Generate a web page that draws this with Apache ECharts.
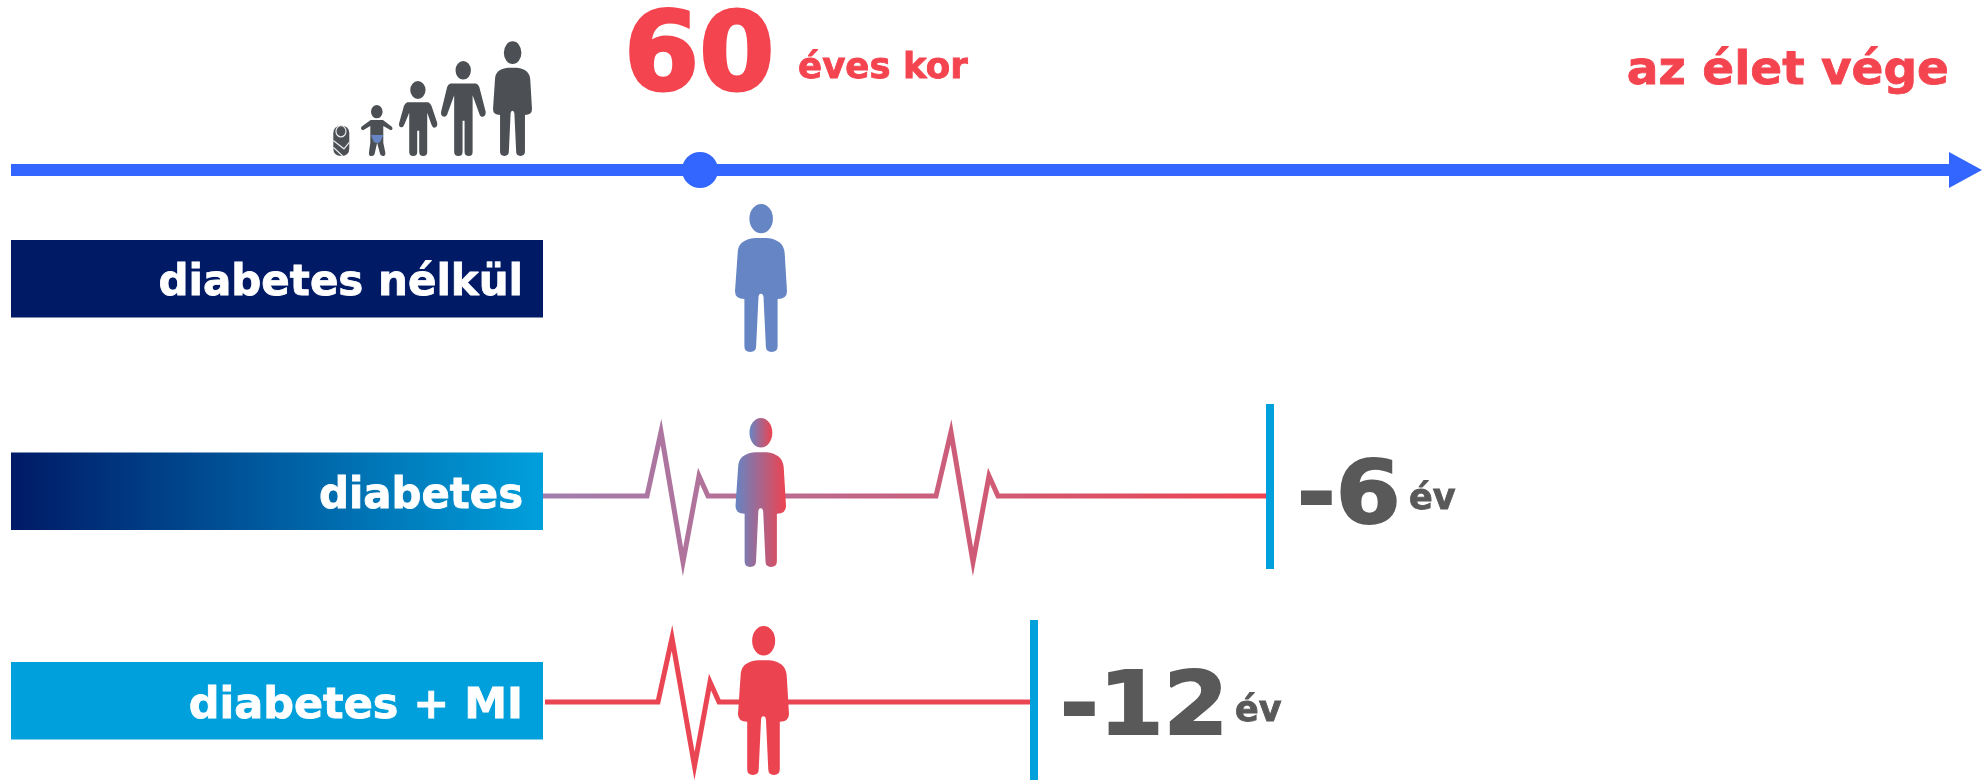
<!DOCTYPE html>
<html><head><meta charset="utf-8">
<style>html,body{margin:0;padding:0;background:#fff}#c{width:1982px;height:780px}</style>
<script src="https://cdn.jsdelivr.net/npm/echarts@6/dist/echarts.min.js"></script>
</head><body><div id="c"></div>
<script>
// Schematic; both axes run in drawing units.
const timelineX = [11, 1950];
const timelineY = [170, 170];
const arrowHead = [1965.5, 170];
const age60Point = [700, 170];

const rowNames = ['diabetes nélkül', 'diabetes', 'diabetes + MI'];
const rowBarLeft = [11, 11, 11];
const rowBarRight = [543, 543, 543];
const rowBarTop = [240, 452.5, 662];
const rowBarBottom = [317.5, 530, 739.5];
const rowBaseline = [295, 508, 718];
const rowTextStretch = [1, 0.995, 1.023];

const ecgDiabetesX = [543, 647, 661, 683, 699, 708, 936, 951, 973, 989, 998, 1267];
const ecgDiabetesY = [496, 496, 432, 562, 476, 496, 496, 432, 562, 476, 496, 496];
const ecgMiX = [545, 658, 672, 694.5, 710, 719, 1030];
const ecgMiY = [702, 702, 638, 766, 682, 702, 702];

const endMarkX = [1270, 1034];
const endMarkTop = [404, 620];
const endMarkBottom = [569, 780];
const lostYears = ['-6', '-12'];
const lostYearsLeft = [1297, 1060];
const lostYearsBaseline = [524, 735];
const yearWord = ['év', 'év'];
const yearWordLeft = [1409, 1235];
const yearWordBaseline = [509, 721];

const headlineAge = '60';
const headlineUnit = 'éves kor';
const headlineEnd = 'az élet vége';

const RED = '#F4444F', GREY = '#595959', ICON = '#4C5054', BLUE = '#3366FF', SKY = '#00A0DC', NAVY = '#001A66', PERSON = '#6685C4';
const FONT = '"DejaVu Sans"';

const personHead = 'M148 87 A35 44 0 1 1 218 87 A35 44 0 1 1 148 87 Z';
const personBody = 'M113 190 Q113 150 165 145 L200 145 Q250 150 253 190 L260 305 Q260 328 232 328 L232 470 Q232 487 214 487 Q197 487 197 470 L190 322 Q189 312 182 312 Q176 312 175 322 L168 470 Q168 487 150 487 Q133 487 133 470 L133 328 Q105 328 105 305 Z';
const personPath = personHead + ' ' + personBody;
const teenPath = 'M407 120 A23 28 0 1 1 453 120 A23 28 0 1 1 407 120 Z M392 160 L468 160 Q475 162 478 170 L497 245 Q498 260 486 260 Q480 260 477 248 L458 195 L458 366 Q458 378 447 378 Q434 378 434 366 L434 272 L428 272 L428 366 Q428 378 416 378 Q403 378 403 366 L403 195 L384 248 Q381 260 373 260 Q362 258 364 245 L382 170 Q385 162 392 160 Z';
const kidPath = 'M271 180 A23 27 0 1 1 317 180 A23 27 0 1 1 271 180 Z M262 217 L325 217 Q332 220 335 228 L352 278 Q354 292 343 293 Q338 293 334 282 L322 248 L322 366 Q322 378 310 378 Q298 378 298 366 L298 302 L292 302 L292 366 Q292 378 280 378 Q268 378 268 366 L268 248 L254 282 Q250 293 244 292 Q235 290 238 278 L252 228 Q255 220 262 217 Z';
const toddlerPath = 'M154 245 A17 20 0 1 1 188 245 A17 20 0 1 1 154 245 Z M153 270 L189 270 L215 290 Q220 298 212 301 L190 288 L190 338 L196 368 Q197 378 188 378 Q181 378 180 370 L172 338 L165 370 Q164 378 156 378 Q147 378 148 368 L152 338 L152 288 L131 301 Q122 298 126 290 Z';
const diaperPath = 'M153 315 L190 315 L181 335 Q171 342 161 335 Z';
const babyPath = 'M40 310 Q40 287 64 287 Q88 287 88 310 L88 355 Q88 378 64 378 Q40 378 40 355 Z';
const babySwirlPath = 'M48 312 A15 14 0 1 1 78 312 A15 14 0 1 1 48 312 Z M40 335 L72 356 L88 340 M40 352 L68 374';

const blueToRed = {type:'linear',x:0,y:0,x2:1,y2:0,colorStops:[{offset:0,color:'#6685C4'},{offset:1,color:'#EE4350'}]};
const iconPaths = [personPath, personBody, personHead, personPath, personPath, teenPath, kidPath, toddlerPath, diaperPath, babyPath];
const iconLeft = [735, 735.5, 749.5, 738, 493, 441, 399, 361, 371, 333.3];
const iconTop = [204, 452.2, 418, 626, 41.3, 61, 81, 105, 135, 125.7];
const iconRight = [787, 786, 772.3, 789, 532, 485.7, 437.3, 392.5, 383.3, 349.3];
const iconBottom = [352, 567, 447.5, 775, 156, 156, 156, 156, 143, 156];
const iconFill = [PERSON, blueToRed, blueToRed, '#EC4350', ICON, ICON, ICON, ICON, PERSON, ICON];

function pairs(xs, ys){ return xs.map((x,i)=>[x, ys[i]]); }

function box(api, l, t, r, b){
  const a = api.coord([l, t]), c = api.coord([r, b]);
  return {x:a[0], y:a[1], width:c[0]-a[0], height:c[1]-a[1]};
}
function textEl(api, text, x, base, size, color, align, sx, thick){
  const p = api.coord([x, base]);
  return {type:'text', x:p[0], y:p[1]-size*0.266, scaleX:sx||1, scaleY:1,
    style:{text, x:0, y:0, fill:color, stroke:color, lineWidth:thick||0.6,
    font:'bold '+size+'px '+FONT, textAlign:align, textVerticalAlign:'middle'}};
}

const barFill = [NAVY,
  {type:'linear',x:0,y:0,x2:1,y2:0,colorStops:[{offset:0,color:NAVY},{offset:1,color:SKY}]},
  SKY];

const lineBase = {type:'line', showSymbol:false, symbol:'none', animation:false, silent:true, z:2};

const option = {
  backgroundColor:'#fff',
  animation:false,
  grid:{left:0,right:0,top:0,bottom:0},
  xAxis:{type:'value',min:0,max:1982,show:false},
  yAxis:{type:'value',min:0,max:780,inverse:true,show:false},
  series:[
    Object.assign({}, lineBase, {data:pairs(timelineX,timelineY), lineStyle:{color:BLUE,width:12,cap:'butt'}}),
    {type:'scatter', animation:false, silent:true, z:3, data:[age60Point], symbol:'circle', symbolSize:36, itemStyle:{color:BLUE,opacity:1}},
    {type:'scatter', animation:false, silent:true, z:3, data:[arrowHead], symbol:'triangle', symbolRotate:-90, symbolSize:[36,33], itemStyle:{color:BLUE,opacity:1}},
    Object.assign({}, lineBase, {data:pairs(ecgDiabetesX,ecgDiabetesY),
      lineStyle:{width:5,cap:'butt',join:'miter',miterLimit:30,
        color:{type:'linear',x:0,y:0,x2:1,y2:0,colorStops:[{offset:0,color:'#A07FAF'},{offset:1,color:'#EE4350'}]}}}),
    Object.assign({}, lineBase, {data:pairs(ecgMiX,ecgMiY),
      lineStyle:{width:5,cap:'butt',join:'miter',miterLimit:30,color:'#EA4552'}}),
    {type:'custom', coordinateSystem:'cartesian2d', animation:false, silent:true, z:1,
      data:rowNames.map((n,i)=>[rowBarLeft[i],rowBarTop[i]]),
      renderItem:(p,api)=>{ const i=p.dataIndex;
        return {type:'group',children:[
          {type:'rect',shape:box(api,rowBarLeft[i],rowBarTop[i],rowBarRight[i],rowBarBottom[i]),style:{fill:barFill[i]}},
          textEl(api,rowNames[i],523,rowBaseline[i],42,'#fff','right',rowTextStretch[i],0.8)
        ]};
      }},
    {type:'custom', coordinateSystem:'cartesian2d', animation:false, silent:true, z:3,
      data:endMarkX.map((x,i)=>[x,endMarkTop[i]]),
      renderItem:(p,api)=>{ const i=p.dataIndex;
        return {type:'group',children:[
          {type:'rect',shape:box(api,endMarkX[i]-4,endMarkTop[i],endMarkX[i]+4,endMarkBottom[i]),style:{fill:SKY}},
          textEl(api,lostYears[i],lostYearsLeft[i],lostYearsBaseline[i],88,GREY,'left',1.06,2),
          textEl(api,yearWord[i],yearWordLeft[i],yearWordBaseline[i],35,GREY,'left',1,0.8)
        ]};
      }},
    {type:'custom', coordinateSystem:'cartesian2d', animation:false, silent:true, z:4,
      data:iconPaths.map((d,i)=>[iconLeft[i],iconTop[i]]),
      renderItem:(p,api)=>{ const i=p.dataIndex, b=box(api,iconLeft[i],iconTop[i],iconRight[i],iconBottom[i]);
        return {type:'path',shape:{pathData:iconPaths[i],layout:'cover',x:b.x,y:b.y,width:b.width,height:b.height},style:{fill:iconFill[i]}};
      }},
    {type:'custom', coordinateSystem:'cartesian2d', animation:false, silent:true, z:5,
      data:[[333.3,125.7]],
      renderItem:(p,api)=>{ const b=box(api,333.3,125.7,349.3,156);
        return {type:'path',shape:{pathData:babySwirlPath,layout:'cover',x:b.x,y:b.y,width:b.width,height:b.height},
          style:{fill:'none',stroke:'#E8E8E8',lineWidth:1.2}};
      }},
    {type:'custom', coordinateSystem:'cartesian2d', animation:false, silent:true, z:5,
      data:[[626,93]],
      renderItem:(p,api)=>({type:'group',children:[
        textEl(api,headlineAge,624,90,108,RED,'left',1,3),
        textEl(api,headlineUnit,798,78,35.6,RED,'left',1,0.8),
        textEl(api,headlineEnd,1949,84,47,RED,'right',1,0.8)
      ]})}
  ]
};
const chart = echarts.init(document.getElementById('c'), null, {renderer:'canvas'});
chart.setOption(option);
</script>
</body></html>
